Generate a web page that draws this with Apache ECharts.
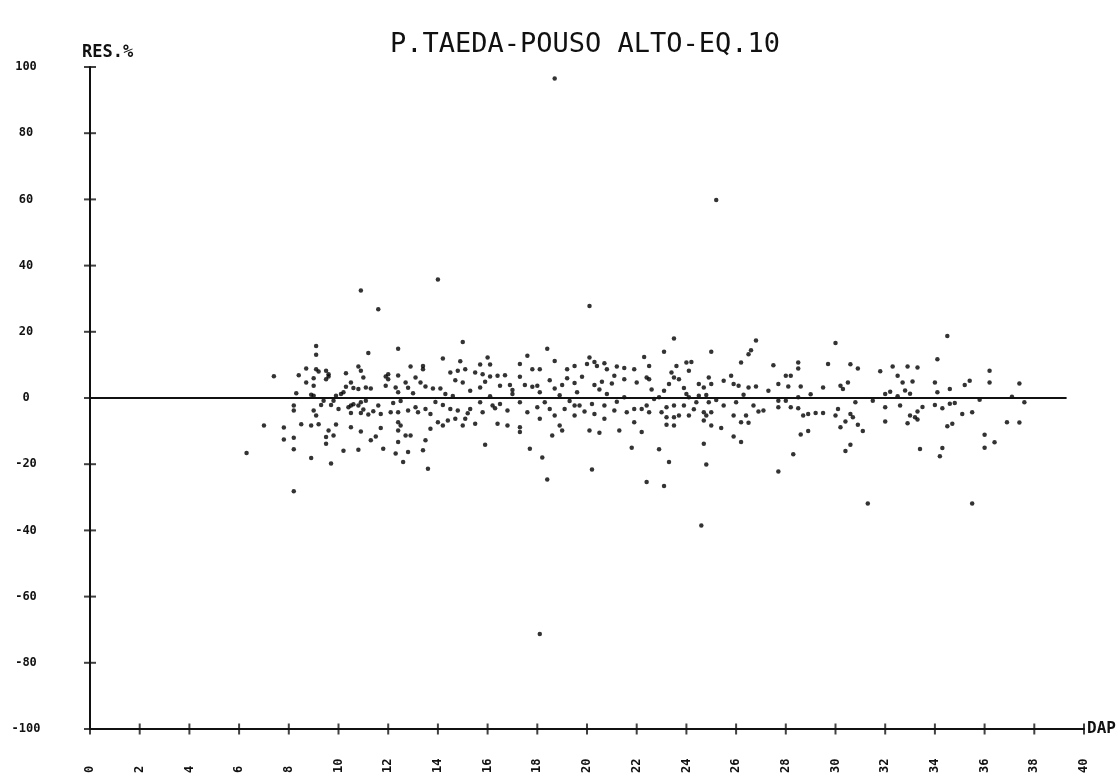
<!DOCTYPE html>
<html>
<head>
<meta charset="utf-8">
<script src="https://cdn.jsdelivr.net/npm/echarts@6/dist/echarts.min.js"></script>
<style>html,body{margin:0;padding:0;background:#fff}#c{width:1120px;height:776px}</style>
</head>
<body>
<div id="c"></div>
<script>
const titleText = 'P.TAEDA-POUSO ALTO-EQ.10';
const yAxisName = 'RES.%';
const xAxisName = 'DAP';
const yTicks = [-100, -80, -60, -40, -20, 0, 20, 40, 60, 80, 100];
const xTicks = [0,2,4,6,8,10,12,14,16,18,20,22,24,26,28,30,32,34,36,38,40];
const zeroLine = [[0, 0], [39.3, 0]];

const pointsDap6to14 = [[10.9,32.5],[11.6,26.8],[9.1,15.7],[9.1,13.1],[11.2,13.6],[12.4,14.9],[7.4,6.6],[8.7,8.9],[9.1,8.7],[9.5,8.2],[9.6,7.2],[8.4,6.9],[9.0,6.0],[8.7,4.7],[9.0,3.7],[9.5,5.7],[10.3,7.5],[10.8,9.5],[10.9,8.2],[11.0,6.2],[10.5,4.7],[10.6,3.0],[10.8,2.7],[11.1,3.2],[11.3,2.9],[12.9,9.5],[13.4,9.7],[13.4,8.7],[12.0,7.2],[12.0,5.7],[12.4,6.8],[12.7,4.7],[11.9,3.7],[12.3,3.2],[12.4,1.7],[12.8,3.1],[13.0,1.4],[13.1,6.2],[13.3,4.7],[13.5,3.5],[13.8,2.9],[8.3,1.4],[8.2,-2.3],[8.2,-3.8],[9.0,0.7],[9.4,-0.8],[9.3,-2.1],[9.8,-0.8],[9.9,0.7],[10.1,1.2],[10.2,1.7],[9.7,-2.1],[10.5,-2.3],[10.8,-2.3],[10.9,-1.3],[11.1,-0.8],[9.0,-3.8],[9.1,-5.3],[10.0,-3.3],[10.5,-4.5],[10.9,-4.5],[11.2,-5.0],[11.4,-4.0],[11.6,-2.3],[11.7,-4.8],[12.1,-4.3],[12.4,-4.3],[12.8,-3.8],[13.1,-2.8],[13.2,-4.3],[13.5,-3.3],[13.7,-4.8],[7.0,-8.3],[7.8,-8.9],[8.5,-7.9],[8.9,-8.3],[9.2,-7.9],[9.9,-8.0],[10.5,-8.8],[10.9,-10.1],[7.8,-12.5],[8.2,-12.0],[8.2,-15.5],[9.6,-9.8],[9.8,-11.3],[9.5,-11.8],[9.5,-13.8],[10.2,-15.9],[10.8,-15.6],[11.3,-12.8],[11.5,-11.6],[11.8,-15.3],[11.7,-9.1],[12.4,-7.3],[12.5,-8.3],[12.4,-9.8],[12.7,-11.3],[12.4,-13.3],[12.3,-16.8],[12.8,-16.3],[12.9,-11.3],[13.4,-15.8],[13.5,-12.8],[13.7,-9.3],[13.6,-21.4],[12.6,-19.3],[9.7,-19.8],[8.9,-18.1],[6.3,-16.6],[8.2,-28.2],[9.2,8.0],[9.6,6.5],[10.4,-2.8],[10.6,-1.9],[12.5,-0.9],[11.0,-3.5],[8.9,1.0],[12.2,-1.5],[13.9,-1.2],[10.3,3.4],[11.9,6.5]];

const pointsDap14to22 = [[14.0,35.8],[20.1,27.8],[15.0,16.9],[18.4,14.9],[14.2,11.9],[14.9,11.1],[15.7,10.1],[16.0,12.2],[16.1,10.1],[17.6,12.8],[17.3,10.3],[17.8,8.7],[18.1,8.7],[18.7,11.2],[19.2,8.7],[19.5,9.7],[20.0,10.3],[20.1,12.2],[20.3,10.9],[20.4,9.7],[20.7,10.5],[20.8,8.7],[21.2,9.5],[21.5,9.1],[21.9,8.7],[14.5,7.7],[14.8,8.2],[15.1,8.7],[14.7,5.4],[15.0,4.7],[15.5,7.7],[15.8,7.2],[16.1,6.5],[16.4,6.7],[16.7,6.9],[16.5,3.7],[16.9,3.9],[17.3,6.4],[17.5,3.9],[17.8,3.4],[18.0,3.7],[18.5,5.4],[18.7,2.9],[19.0,3.9],[19.2,6.0],[19.5,4.5],[19.8,6.4],[20.3,3.9],[20.6,4.9],[21.0,4.4],[21.1,6.7],[21.5,5.7],[22.0,4.7],[14.1,2.9],[14.3,1.2],[15.3,2.2],[15.7,3.2],[16.1,0.5],[17.0,1.2],[18.1,1.7],[19.6,1.7],[20.8,1.2],[21.5,0.2],[14.2,-2.1],[14.5,-3.3],[14.8,-3.8],[15.3,-3.3],[15.7,-1.3],[15.8,-4.3],[16.2,-2.3],[16.5,-1.8],[16.8,-3.8],[17.3,-1.3],[17.6,-4.3],[18.0,-2.8],[18.3,-1.3],[18.5,-3.3],[19.1,-3.3],[19.5,-2.3],[19.7,-2.3],[20.2,-1.8],[20.3,-4.8],[20.7,-2.3],[21.1,-3.8],[21.6,-4.3],[21.9,-3.3],[14.0,-7.3],[14.4,-6.8],[14.7,-6.3],[14.2,-8.3],[15.0,-8.3],[15.1,-6.3],[15.5,-7.8],[16.4,-7.8],[16.8,-8.3],[17.3,-8.8],[17.3,-10.3],[18.1,-6.3],[18.7,-5.3],[18.9,-8.3],[19.0,-9.8],[19.5,-5.3],[20.1,-9.8],[20.5,-10.5],[20.7,-6.3],[21.3,-9.8],[21.9,-7.3],[18.6,-11.3],[15.9,-14.1],[17.7,-15.3],[18.2,-18.0],[18.4,-24.6],[20.2,-21.6],[21.8,-15.0],[15.2,-4.6],[16.3,-3.1],[18.9,0.8],[19.3,-0.9],[20.5,2.6],[17.0,2.4],[14.6,0.6],[21.2,-1.1],[15.9,4.9],[19.9,-4.1]];

const pointsDap22to30 = [[23.5,18.0],[26.8,17.4],[30.0,16.6],[23.1,14.0],[25.0,14.0],[26.6,14.4],[26.5,13.2],[22.3,12.4],[22.5,9.7],[23.6,9.7],[24.0,10.7],[24.2,10.9],[24.1,8.2],[26.2,10.7],[27.5,9.9],[28.5,10.7],[28.5,8.9],[29.7,10.3],[22.4,6.2],[22.5,5.7],[23.4,7.7],[23.5,6.2],[23.3,4.2],[23.7,5.7],[24.5,4.2],[24.7,3.2],[24.9,6.2],[25.0,4.2],[25.5,5.2],[25.8,6.7],[25.9,4.2],[26.1,3.7],[26.5,3.2],[26.8,3.5],[28.0,6.7],[28.2,6.7],[27.7,4.2],[28.1,3.5],[28.6,3.5],[29.5,3.2],[30.2,3.7],[30.3,2.7],[22.7,-0.3],[22.9,0.2],[23.1,2.2],[24.0,1.2],[24.1,0.2],[24.5,0.7],[24.8,0.9],[28.5,0.2],[22.2,-3.3],[22.4,-2.3],[22.5,-4.3],[23.0,-4.3],[23.2,-2.8],[23.2,-5.8],[23.5,-2.3],[23.5,-5.8],[23.7,-5.3],[23.9,-2.3],[24.1,-5.3],[24.4,-1.3],[24.7,-4.3],[24.9,-1.3],[24.8,-5.3],[25.0,-4.3],[25.5,-2.3],[26.0,-1.3],[25.9,-5.3],[26.4,-5.3],[26.2,-7.3],[26.5,-7.5],[26.7,-2.3],[26.9,-4.1],[27.1,-3.8],[27.7,-0.8],[27.7,-2.8],[28.0,-0.8],[28.2,-2.8],[28.5,-3.1],[28.7,-5.3],[28.9,-4.8],[29.2,-4.5],[29.5,-4.5],[30.1,-3.3],[30.0,-5.3],[30.2,-8.8],[22.2,-10.3],[23.2,-8.1],[23.5,-8.3],[24.7,-6.8],[25.0,-8.3],[25.4,-9.1],[24.7,-13.8],[25.9,-11.6],[26.2,-13.3],[28.6,-11.0],[28.9,-10.0],[22.9,-15.5],[23.3,-19.3],[24.8,-20.1],[28.3,-17.0],[27.7,-22.2],[30.4,-16.0],[22.4,-25.4],[23.1,-26.6],[23.9,3.0],[25.2,-0.6],[26.3,1.0],[22.6,2.6],[27.3,2.2],[29.0,1.1],[24.3,-3.4]];

const pointsDap30to38 = [[34.5,18.7],[34.1,11.7],[30.6,10.2],[30.9,8.9],[31.8,8.1],[32.3,9.5],[32.9,9.5],[33.3,9.2],[32.5,6.7],[32.7,4.7],[33.1,5.0],[32.8,2.3],[33.0,1.3],[30.5,4.7],[34.0,4.7],[34.1,1.7],[34.6,2.7],[35.2,3.9],[35.4,5.2],[36.2,8.2],[36.2,4.7],[37.4,4.4],[32.0,1.2],[32.2,1.9],[32.5,0.5],[31.5,-0.8],[30.8,-1.3],[32.0,-2.8],[32.6,-2.3],[33.5,-2.7],[34.0,-2.1],[34.3,-3.1],[34.6,-1.7],[34.8,-1.5],[35.8,-0.5],[37.1,0.4],[37.6,-1.3],[30.6,-4.8],[30.7,-5.8],[30.4,-7.1],[30.9,-8.1],[31.1,-10.0],[32.0,-7.1],[33.0,-5.3],[33.2,-5.8],[33.3,-6.5],[33.3,-4.1],[32.9,-7.6],[35.1,-4.8],[35.5,-4.3],[34.5,-8.5],[34.7,-7.8],[36.9,-7.3],[37.4,-7.4],[36.0,-11.1],[36.4,-13.4],[36.0,-15.0],[30.6,-14.1],[33.4,-15.4],[34.3,-15.1],[34.2,-17.6],[31.3,-31.9],[35.5,-31.9]];

const outliers = [[18.7,96.5],[25.2,59.8],[24.6,-38.5],[18.1,-71.3]];

const allPoints = [].concat(pointsDap6to14, pointsDap14to22, pointsDap22to30, pointsDap30to38, outliers);

const chart = echarts.init(document.getElementById('c'));
const FONT = 'DejaVu Sans Mono';
const axisColor = '#111';
const yMin = yTicks[0], yMax = yTicks[yTicks.length - 1];
const xMin = xTicks[0], xMax = xTicks[xTicks.length - 1];

chart.setOption({
  animation: false,
  backgroundColor: '#fff',
  title: {
    text: titleText,
    left: 580, top: 26, textAlign: 'center',
    textStyle: { fontFamily: FONT, fontSize: 27, fontWeight: 'normal', color: '#111' }
  },
  graphic: [{
    type: 'text', left: 82, top: 44,
    style: { text: yAxisName, fontFamily: FONT, fontSize: 17, fontWeight: 'bold', fill: '#111' }
  }],
  grid: { left: 90, right: 36, top: 67, bottom: 44, containLabel: false },
  xAxis: {
    type: 'value', min: xMin, max: xMax, interval: 2,
    name: xAxisName, nameLocation: 'end', nameGap: 3,
    nameTextStyle: { fontFamily: FONT, fontSize: 16, fontWeight: 'bold', color: '#111' },
    axisLine: { show: true, onZero: false, lineStyle: { color: axisColor, width: 2 } },
    axisTick: { show: false },
    axisLabel: { rotate: 90, align: 'left', margin: 44, fontFamily: FONT, fontSize: 12, fontWeight: 'bold', color: '#111' },
    splitLine: { show: false }
  },
  yAxis: {
    type: 'value', min: yMin, max: yMax, interval: 20,
    axisLine: { show: true, onZero: false, lineStyle: { color: axisColor, width: 2 } },
    axisTick: { show: false },
    axisLabel: { align: 'center', margin: 64, fontFamily: FONT, fontSize: 12, fontWeight: 'bold', color: '#111' },
    splitLine: { show: false }
  },
  series: [{
    type: 'line', data: zeroLine, symbol: 'none', silent: true,
    lineStyle: { color: axisColor, width: 2 }
  }, {
    type: 'scatter', silent: true, clip: false, symbol: 'rect', symbolSize: [2, 11],
    data: xTicks.map(t => [t, yMin]), itemStyle: { color: axisColor }
  }, {
    type: 'scatter', silent: true, clip: false, symbol: 'rect', symbolSize: [12, 2],
    data: yTicks.map(t => [xMin, t]), itemStyle: { color: axisColor }
  }, {
    type: 'scatter', data: allPoints, symbol: 'circle', symbolSize: 4.5,
    itemStyle: { color: '#000' }
  }]
});
</script>
</body>
</html>
